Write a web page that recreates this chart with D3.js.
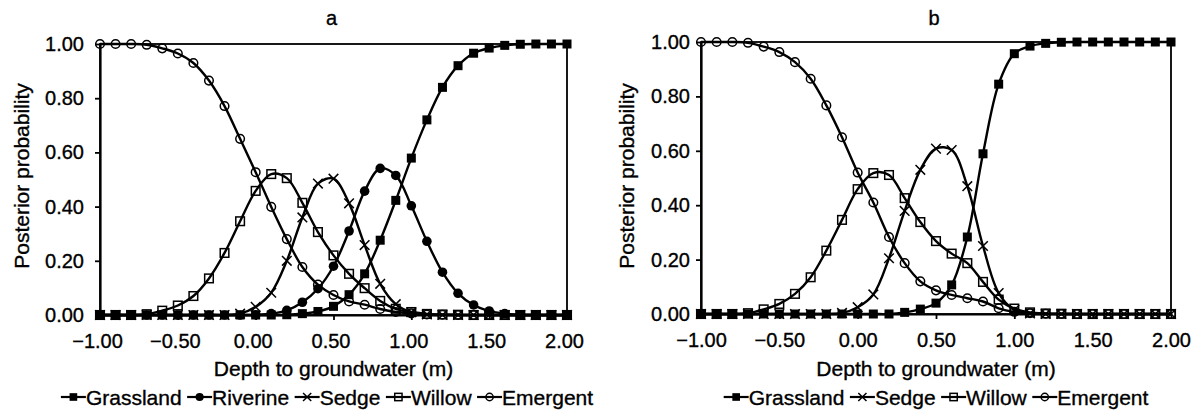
<!DOCTYPE html>
<html>
<head>
<meta charset="utf-8">
<script src="https://cdn.jsdelivr.net/npm/d3@7"></script>
<style>
  body { margin: 0; background: #fff; }
  svg text { font-family: "Liberation Sans", Arial, Helvetica, sans-serif; fill: #000; stroke: #000; stroke-width: 0.35px; }
</style>
</head>
<body>
<div id="chart"></div>
<script>
// Depth to groundwater (m), one point every 0.1 m
var depth = [-1.0, -0.9, -0.8, -0.7, -0.6, -0.5, -0.4, -0.3, -0.2, -0.1,
  0.0, 0.1, 0.2, 0.3, 0.4, 0.5, 0.6, 0.7, 0.8, 0.9,
  1.0, 1.1, 1.2, 1.3, 1.4, 1.5, 1.6, 1.7, 1.8, 1.9, 2.0];

// Panel a
var grasslandA = [0, 0, 0, 0, 0, 0, 0, 0, 0, 0,
  0, 0, 0.001, 0.005, 0.013, 0.032, 0.075, 0.152, 0.276, 0.423,
  0.579, 0.72, 0.84, 0.92, 0.966, 0.985, 0.995, 0.999, 1, 1, 1];
var riverineA = [0, 0, 0, 0, 0, 0, 0, 0, 0, 0,
  0.001, 0.005, 0.017, 0.047, 0.097, 0.18, 0.31, 0.457, 0.541, 0.515,
  0.403, 0.272, 0.158, 0.08, 0.037, 0.015, 0.005, 0.001, 0, 0, 0];
var sedgeA = [0, 0, 0, 0, 0, 0, 0, 0, 0, 0.005,
  0.03, 0.082, 0.2, 0.36, 0.485, 0.503, 0.412, 0.258, 0.115, 0.04,
  0.01, 0.002, 0, 0, 0, 0, 0, 0, 0, 0, 0];
var willowA = [0, 0, 0, 0.003, 0.016, 0.035, 0.07, 0.135, 0.229, 0.346,
  0.458, 0.52, 0.505, 0.414, 0.306, 0.22, 0.152, 0.099, 0.052, 0.023,
  0.011, 0.004, 0.002, 0.001, 0, 0, 0, 0, 0, 0, 0];
var emergentA = [1, 1, 1, 0.997, 0.984, 0.965, 0.93, 0.865, 0.771, 0.65,
  0.527, 0.399, 0.28, 0.177, 0.112, 0.074, 0.05, 0.038, 0.022, 0.011,
  0.006, 0.002, 0.001, 0, 0, 0, 0, 0, 0, 0, 0];

// Panel b
var grasslandB = [0, 0, 0, 0, 0, 0, 0, 0, 0, 0,
  0, 0, 0, 0.006, 0.018, 0.04, 0.107, 0.283, 0.589, 0.845,
  0.957, 0.985, 0.995, 0.999, 1, 1, 1, 1, 1, 1, 1];
var sedgeB = [0, 0, 0, 0, 0, 0, 0, 0, 0, 0.004,
  0.025, 0.072, 0.205, 0.379, 0.53, 0.608, 0.603, 0.47, 0.25, 0.077,
  0.015, 0.002, 0, 0, 0, 0, 0, 0, 0, 0, 0];
var willowB = [0, 0, 0, 0.003, 0.017, 0.037, 0.074, 0.135, 0.233, 0.346,
  0.459, 0.518, 0.511, 0.426, 0.338, 0.268, 0.222, 0.187, 0.118, 0.053,
  0.02, 0.006, 0.002, 0.001, 0, 0, 0, 0, 0, 0, 0];
var emergentB = [1, 1, 1, 0.997, 0.983, 0.963, 0.926, 0.865, 0.767, 0.65,
  0.52, 0.41, 0.283, 0.187, 0.12, 0.087, 0.07, 0.058, 0.046, 0.021,
  0.008, 0.003, 0.001, 0, 0, 0, 0, 0, 0, 0, 0];

var xTicks = [-1.0, -0.5, 0.0, 0.5, 1.0, 1.5, 2.0];
var yTicks = [0.0, 0.2, 0.4, 0.6, 0.8, 1.0];
var panelTitles = ["a", "b"];
var xTitle = "Depth to groundwater (m)";
var yTitle = "Posterior probability";

var svgWidth = 1191;
var svgHeight = 412;

var svg = d3.select("#chart")
  .append("svg")
  .attr("width", svgWidth)
  .attr("height", svgHeight);

// marker shapes used by each vegetation class
var markerOf = {
  Grassland: "fsquare",
  Riverine: "fcircle",
  Sedge: "cross",
  Willow: "osquare",
  Emergent: "ocircle"
};

function drawMarker(g, type, cx, cy, s) {
  s = s || 1;
  if (type === "fsquare") {
    g.append("rect").attr("x", cx - 4.5 * s).attr("y", cy - 4.5 * s)
      .attr("width", 9 * s).attr("height", 9 * s).attr("fill", "#000");
  } else if (type === "fcircle") {
    g.append("circle").attr("cx", cx).attr("cy", cy).attr("r", 4.8 * s).attr("fill", "#000");
  } else if (type === "osquare") {
    g.append("rect").attr("x", cx - 4.3 * s).attr("y", cy - 4.3 * s)
      .attr("width", 8.6 * s).attr("height", 8.6 * s)
      .attr("fill", "none").attr("stroke", "#000").attr("stroke-width", 1.5);
  } else if (type === "ocircle") {
    g.append("circle").attr("cx", cx).attr("cy", cy).attr("r", 4.3 * s)
      .attr("fill", "none").attr("stroke", "#000").attr("stroke-width", 1.5);
  } else if (type === "cross") {
    var h = 4.8 * s;
    g.append("path")
      .attr("d", `M${cx - h},${cy - h}L${cx + h},${cy + h}M${cx - h},${cy + h}L${cx + h},${cy - h}`)
      .attr("stroke", "#000").attr("stroke-width", 1.5).attr("fill", "none");
  }
}

var panels = [
  {
    title: panelTitles[0], left: 100, right: 567, top: 44, bottom: 315,
    labelGap: 16, xdx: -3, yTitleX: 22, legendCenter: 327,
    series: [
      { name: "Grassland", values: grasslandA },
      { name: "Riverine", values: riverineA },
      { name: "Sedge", values: sedgeA },
      { name: "Willow", values: willowA },
      { name: "Emergent", values: emergentA }
    ]
  },
  {
    title: panelTitles[1], left: 701, right: 1171, top: 42, bottom: 314,
    labelGap: 11, xdx: 0, yTitleX: 627, legendCenter: 936,
    series: [
      { name: "Grassland", values: grasslandB },
      { name: "Sedge", values: sedgeB },
      { name: "Willow", values: willowB },
      { name: "Emergent", values: emergentB }
    ]
  }
];

panels.forEach(function(p) {
  var x = d3.scaleLinear().domain([-1, 2]).range([p.left, p.right]);
  var y = d3.scaleLinear().domain([0, 1]).range([p.bottom, p.top]);
  var g = svg.append("g");

  // plot frame (top and right edges)
  g.append("rect")
    .attr("x", p.left).attr("y", p.top)
    .attr("width", p.right - p.left).attr("height", p.bottom - p.top)
    .attr("fill", "none").attr("stroke", "#000").attr("stroke-width", 1.8);

  var fmt = d3.format(".2f");

  var xAxis = g.append("g")
    .attr("transform", `translate(0, ${p.bottom})`)
    .call(d3.axisBottom(x).tickValues(xTicks).tickFormat(fmt).tickSize(5).tickSizeOuter(0).tickPadding(14));
  xAxis.selectAll("text").attr("font-size", 20).attr("dx", p.xdx)
    .style("font-family", '"Liberation Sans", Arial, sans-serif');

  var yAxis = g.append("g")
    .attr("transform", `translate(${p.left}, 0)`)
    .call(d3.axisLeft(y).tickValues(yTicks).tickFormat(fmt).tickSize(5).tickSizeOuter(0).tickPadding(p.labelGap - 5));
  yAxis.selectAll("text").attr("font-size", 20)
    .style("font-family", '"Liberation Sans", Arial, sans-serif');

  [xAxis, yAxis].forEach(function(a) {
    a.select(".domain").attr("stroke", "#000").attr("stroke-width", 2.2);
    a.selectAll(".tick line").attr("stroke", "#000").attr("stroke-width", 1.8);
  });

  // series: last legend entry drawn first so Grassland sits on top
  var line = d3.line()
    .x((d, i) => x(depth[i]))
    .y(d => y(d))
    .curve(d3.curveCatmullRom.alpha(0.5));

  p.series.slice().reverse().forEach(function(s) {
    var sg = g.append("g");
    sg.append("path")
      .attr("d", line(s.values))
      .attr("fill", "none")
      .attr("stroke", "#000")
      .attr("stroke-width", 2.4);
    s.values.forEach(function(v, i) {
      drawMarker(sg, markerOf[s.name], x(depth[i]), y(v));
    });
  });

  // panel title
  g.append("text")
    .attr("x", (p.left + p.right) / 2 - 2)
    .attr("y", 25)
    .attr("text-anchor", "middle")
    .attr("font-size", 20)
    .text(p.title);

  // axis titles
  g.append("text")
    .attr("x", (p.left + p.right) / 2)
    .attr("y", 375.5)
    .attr("text-anchor", "middle")
    .attr("font-size", 21)
    .text(xTitle);

  g.append("text")
    .attr("transform", `translate(${p.yTitleX}, 176) rotate(-90)`)
    .attr("text-anchor", "middle")
    .attr("dy", "0.35em")
    .attr("font-size", 21)
    .text(yTitle);

  // legend, laid out in a row and then centred
  var legend = g.append("g");
  var cursor = 0;
  var symW = 25, gap = 5.5, ly = 397;
  p.series.forEach(function(s, i) {
    var item = legend.append("g").attr("transform", `translate(${cursor}, 0)`);
    item.append("line")
      .attr("x1", 0).attr("x2", symW).attr("y1", ly).attr("y2", ly)
      .attr("stroke", "#000").attr("stroke-width", 2.2);
    drawMarker(item, markerOf[s.name], symW / 2, ly, 0.85);
    var t = item.append("text")
      .attr("x", symW)
      .attr("y", ly + 7.5)
      .attr("font-size", 21)
      .text(s.name);
    cursor += symW + t.node().getComputedTextLength() + (i < p.series.length - 1 ? gap : 0);
  });
  legend.attr("transform", `translate(${p.legendCenter - cursor / 2}, 0)`);
});
</script>
</body>
</html>
